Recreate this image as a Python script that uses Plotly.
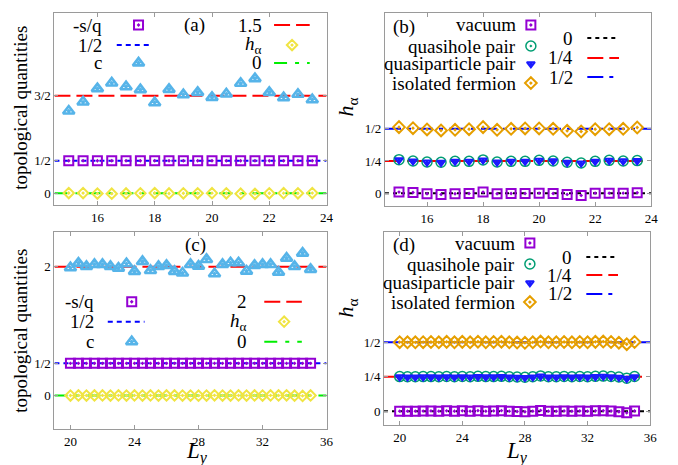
import plotly.graph_objects as go

SERIF = "Liberation Serif"

# ---------------- data ----------------
# panels (a),(b): Ly values
x_ab = [15.0, 15.5, 16.0, 16.5, 17.0, 17.5, 18.0, 18.5, 19.0, 19.5,
        20.0, 20.5, 21.0, 21.5, 22.0, 22.5, 23.0, 23.5]
# panel (a)
sq_a = [0.5, 0.5, 0.5, 0.5, 0.5, 0.5, 0.5, 0.5, 0.5, 0.5, 0.5, 0.5, 0.5, 0.5, 0.5, 0.5, 0.5, 0.5]
c_a = [1.264, 1.403, 1.608, 1.695, 1.638, 1.592, 1.392, 1.597, 1.515, 1.551,
       1.474, 1.526, 1.690, 1.762, 1.551, 1.469, 1.521, 1.438]
h_a = [0.004, 0.003, -0.004, -0.006, -0.003, 0.0, 0.004, -0.003, 0.0, 0.0,
       0.002, 0.0, -0.006, -0.009, 0.0, 0.002, 0.0, 0.003]
ref_a = {"red": 1.5, "blue": 0.5, "green": 0.0}

# panel (b)
vac_b = [0.008, 0.005, -0.005, -0.010, -0.005, -0.003, 0.008, -0.005, -0.003, -0.003,
         0.0, -0.003, -0.010, -0.018, 0.0, 0.0, 0.0, 0.003]
qh_b = [0.260, 0.250, 0.242, 0.240, 0.247, 0.247, 0.258, 0.242, 0.247, 0.247,
        0.255, 0.250, 0.240, 0.234, 0.247, 0.255, 0.250, 0.253]
qp_b = [0.258, 0.248, 0.240, 0.238, 0.246, 0.246, 0.256, 0.240, 0.246, 0.246,
        0.253, 0.249, 0.238, 0.233, 0.246, 0.253, 0.249, 0.251]
fe_b = [0.513, 0.505, 0.495, 0.487, 0.492, 0.497, 0.513, 0.492, 0.500, 0.503,
        0.503, 0.500, 0.484, 0.479, 0.497, 0.497, 0.500, 0.510]
ref_b = {"black": 0.0, "red": 0.25, "blue": 0.5}
red_end_b = 23.8

# panels (c),(d)
x_cd = [20.0, 20.5, 21.0, 21.5, 22.0, 22.5, 23.0, 23.5, 24.0, 24.5, 25.0, 25.5,
        26.0, 26.5, 27.0, 27.5, 28.0, 28.5, 29.0, 29.5, 30.0, 30.5, 31.0, 31.5,
        32.0, 32.5, 33.0, 33.5, 34.0, 34.5, 35.0]
sq_c = [0.5, 0.5, 0.5, 0.5, 0.5, 0.5, 0.5, 0.5, 0.5, 0.5, 0.5, 0.5, 0.5, 0.5, 0.5, 0.5,
        0.5, 0.5, 0.5, 0.5, 0.5, 0.5, 0.5, 0.5, 0.5, 0.5, 0.5, 0.5, 0.5, 0.5, 0.5]
c_c = [1.985, 2.057, 2.005, 2.036, 2.036, 2.005, 1.979, 2.047, 1.928, 2.083, 1.943,
       2.005, 2.021, 1.928, 1.902, 2.036, 2.010, 2.114, 1.891, 2.036, 2.062, 2.062,
       1.933, 2.021, 2.036, 2.036, 1.917, 2.134, 2.005, 2.212, 1.959]
h_c = [0.0, 0.001, 0.0, 0.001, 0.001, 0.0, 0.002, 0.0, 0.002, 0.0, 0.002, 0.0, 0.001,
       0.002, 0.0, -0.001, -0.002, 0.0, 0.003, 0.0, 0.0, 0.001, 0.0, 0.001, 0.0, 0.002,
       0.001, 0.003, -0.002, -0.006, 0.001]
ref_c = {"red": 2.0, "blue": 0.5, "green": 0.0}

# panel (d)
vac_d = [0.0, 0.0, 0.0, 0.001, 0.002, 0.0, 0.003, 0.0, 0.003, 0.0, 0.004, 0.0, 0.002,
         0.004, 0.0, -0.002, -0.004, 0.0, 0.006, 0.0, 0.0, 0.002, 0.0, 0.002, 0.0, 0.003,
         0.004, 0.002, -0.004, -0.012, 0.002]
qh_d = [0.251, 0.250, 0.250, 0.251, 0.251, 0.250, 0.252, 0.250, 0.252, 0.250, 0.253,
        0.251, 0.251, 0.253, 0.250, 0.248, 0.246, 0.250, 0.256, 0.250, 0.250, 0.252,
        0.250, 0.252, 0.250, 0.253, 0.255, 0.252, 0.248, 0.240, 0.252]
qp_d = [0.248, 0.247, 0.247, 0.248, 0.248, 0.247, 0.249, 0.247, 0.249, 0.247, 0.250,
        0.248, 0.248, 0.250, 0.247, 0.245, 0.243, 0.247, 0.253, 0.247, 0.247, 0.249,
        0.247, 0.249, 0.247, 0.250, 0.252, 0.249, 0.245, 0.237, 0.249]
fe_d = [0.501, 0.500, 0.500, 0.501, 0.502, 0.500, 0.503, 0.500, 0.503, 0.500, 0.504,
        0.500, 0.502, 0.504, 0.500, 0.498, 0.496, 0.500, 0.505, 0.500, 0.500, 0.502,
        0.500, 0.502, 0.500, 0.503, 0.505, 0.502, 0.497, 0.486, 0.502]
ref_d = {"black": 0.0, "red": 0.25, "blue": 0.5}
red_end_d = 35.6

# axes settings
xr_ab = [14.5, 24.0]
xr_cd = [19.0, 36.0]
yr_a = [-0.18, 2.77]
yr_b = [-0.10, 1.40]
yr_c = [-0.52, 2.54]
yr_d = [-0.10, 1.30]
xt_ab = [16, 18, 20, 22, 24]
xt_cd = [20, 24, 28, 32, 36]
yt_ac = {"a": ([0, 0.5, 1.5], ["0", "1/2", "3/2"]), "c": ([0, 0.5, 2], ["0", "1/2", "2"])}
yt_bd = ([0, 0.25, 0.5], ["0", "1/4", "1/2"])

# ---------------- styles ----------------
W, H = 678, 465
RED, BLUE, GREEN, BLACK = "#ff0000", "#0000ff", "#00ee00", "#000000"
PURPLE, SKY, YELLOW = "#9400d3", "#56b4e9", "#f0e442"
TEAL, DBLUE, ORANGE = "#009e73", "#1a1aff", "#e69f00"

DASH_RED = "16px,6px"
DASH_BLUE_DOT = "5px,4px"
DASH_GREEN = "13px,8px,4px,8px"
DASH_BLACK = "4px,4px"
DASH_BLUE_LS = "16px,6px,4px,6px"

M_SQ = dict(symbol="square-open-dot", color=PURPLE, size=9, line=dict(width=2, color=PURPLE))
M_TRI = dict(symbol="triangle-up-open-dot", color=SKY, size=10, line=dict(width=2.6, color=SKY))
M_DIA_Y = dict(symbol="diamond-open-dot", color=YELLOW, size=8, line=dict(width=2, color=YELLOW))
M_CIR = dict(symbol="circle-open-dot", color=TEAL, size=10, line=dict(width=1.5, color=TEAL))
M_TRD = dict(symbol="triangle-down-open-dot", color=DBLUE, size=7, line=dict(width=2, color=DBLUE))
M_DIA_O = dict(symbol="diamond-open-dot", color=ORANGE, size=9, line=dict(width=2, color=ORANGE))

fig = go.Figure()


def hline(xa, ya, x0, x1, y, color, dash, width=2):
    fig.add_trace(go.Scatter(x=[x0, x1], y=[y, y], mode="lines", xaxis=xa, yaxis=ya,
                             line=dict(color=color, dash=dash, width=width),
                             showlegend=False, hoverinfo="skip"))


def pts(xa, ya, x, y, marker):
    fig.add_trace(go.Scatter(x=x, y=y, mode="markers", xaxis=xa, yaxis=ya,
                             marker=marker, showlegend=False, cliponaxis=False))


# (a)
hline("x", "y", xr_ab[0], xr_ab[1], ref_a["red"], RED, DASH_RED)
hline("x", "y", xr_ab[0], xr_ab[1], ref_a["blue"], BLUE, DASH_BLUE_DOT)
hline("x", "y", xr_ab[0], xr_ab[1], ref_a["green"], GREEN, DASH_GREEN)
pts("x", "y", x_ab, sq_a, M_SQ)
pts("x", "y", x_ab, c_a, M_TRI)
pts("x", "y", x_ab, h_a, M_DIA_Y)

# (b)
hline("x2", "y2", xr_ab[0], xr_ab[1], ref_b["black"], BLACK, DASH_BLACK)
hline("x2", "y2", xr_ab[0], red_end_b, ref_b["red"], RED, DASH_RED)
hline("x2", "y2", xr_ab[0], xr_ab[1], ref_b["blue"], BLUE, DASH_BLUE_LS)
pts("x2", "y2", x_ab, vac_b, M_SQ)
pts("x2", "y2", x_ab, qh_b, M_CIR)
pts("x2", "y2", x_ab, qp_b, M_TRD)
pts("x2", "y2", x_ab, fe_b, M_DIA_O)

# (c)
hline("x3", "y3", xr_cd[0], xr_cd[1], ref_c["red"], RED, DASH_RED)
hline("x3", "y3", xr_cd[0], xr_cd[1], ref_c["blue"], BLUE, DASH_BLUE_DOT)
hline("x3", "y3", xr_cd[0], xr_cd[1], ref_c["green"], GREEN, DASH_GREEN)
pts("x3", "y3", x_cd, sq_c, M_SQ)
pts("x3", "y3", x_cd, c_c, M_TRI)
pts("x3", "y3", x_cd, h_c, M_DIA_Y)

# (d)
hline("x4", "y4", xr_cd[0], xr_cd[1], ref_d["black"], BLACK, DASH_BLACK)
hline("x4", "y4", xr_cd[0], red_end_d, ref_d["red"], RED, DASH_RED)
hline("x4", "y4", xr_cd[0], xr_cd[1], ref_d["blue"], BLUE, DASH_BLUE_LS)
pts("x4", "y4", x_cd, vac_d, M_SQ)
pts("x4", "y4", x_cd, qh_d, M_CIR)
pts("x4", "y4", x_cd, qp_d, M_TRD)
pts("x4", "y4", x_cd, fe_d, M_DIA_O)

# ---------------- hand-made keys (overlay axes in [0,1]) ----------------
annotations = []


def key_text(xref, yref, x, y, text, anchor="right", size=19):
    annotations.append(dict(xref=xref, yref=yref, x=x, y=y, text=text, showarrow=False,
                            xanchor=anchor, yanchor="middle",
                            font=dict(family=SERIF, size=size, color="black")))


def key_marker(ov, x, y, marker):
    fig.add_trace(go.Scatter(x=[x], y=[y], mode="markers", xaxis="x" + ov, yaxis="y" + ov,
                             marker=marker, showlegend=False, hoverinfo="skip"))


def key_line(ov, x0, x1, y, color, dash):
    fig.add_trace(go.Scatter(x=[x0, x1], y=[y, y], mode="lines", xaxis="x" + ov, yaxis="y" + ov,
                             line=dict(color=color, dash=dash, width=2),
                             showlegend=False, hoverinfo="skip"))


HA = "<i>h</i><sub>α</sub>"

# key (a)
rows = [0.9375, 0.833, 0.740]
key_text("x domain", "y domain", 0.182, rows[0], "-s/q")
key_text("x domain", "y domain", 0.182, rows[1], "1/2")
key_text("x domain", "y domain", 0.182, rows[2], "c")
key_marker("5", 0.309, rows[0], M_SQ)
key_line("5", 0.229, 0.36, rows[1], BLUE, DASH_BLUE_DOT)
key_marker("5", 0.309, rows[2], M_TRI)
key_text("x domain", "y domain", 0.771, rows[0], "1.5")
key_text("x domain", "y domain", 0.771, rows[1], HA)
key_text("x domain", "y domain", 0.771, rows[2], "0")
key_line("5", 0.807, 0.938, rows[0], RED, DASH_RED)
key_marker("5", 0.873, rows[1], M_DIA_Y)
key_line("5", 0.807, 0.938, rows[2], GREEN, DASH_GREEN)
key_text("x domain", "y domain", 0.516, 0.9375, "(a)", anchor="center")

# key (c)
rows = [0.646, 0.545, 0.443]
key_text("x3 domain", "y3 domain", 0.153, rows[0], "-s/q")
key_text("x3 domain", "y3 domain", 0.153, rows[1], "1/2")
key_text("x3 domain", "y3 domain", 0.153, rows[2], "c")
key_marker("7", 0.284, rows[0], M_SQ)
key_line("7", 0.196, 0.331, rows[1], BLUE, DASH_BLUE_DOT)
key_marker("7", 0.284, rows[2], M_TRI)
key_text("x3 domain", "y3 domain", 0.716, rows[0], "2")
key_text("x3 domain", "y3 domain", 0.716, rows[1], HA)
key_text("x3 domain", "y3 domain", 0.716, rows[2], "0")
key_line("7", 0.771, 0.909, rows[0], RED, DASH_RED)
key_marker("7", 0.844, rows[1], M_DIA_Y)
key_line("7", 0.771, 0.909, rows[2], GREEN, DASH_GREEN)
key_text("x3 domain", "y3 domain", 0.52, 0.934, "(c)", anchor="center")


def key_bd(ax, ov, rows1, rows2, lab_xy):
    xd, yd = ax[0] + " domain", ax[1] + " domain"
    names = ["vacuum", "quasihole pair", "quasiparticle pair", "isolated fermion"]
    marks = [M_SQ, M_CIR, M_TRD, M_DIA_O]
    for r, n, m in zip(rows1, names, marks):
        key_text(xd, yd, 0.50, r, n)
        key_marker(ov, 0.548, r, m)
    labs = ["0", "1/4", "1/2"]
    cols = [BLACK, RED, BLUE]
    dashes = [DASH_BLACK, DASH_RED, DASH_BLUE_LS]
    for r, t, c, d in zip(rows2, labs, cols, dashes):
        key_text(xd, yd, 0.712, r, t)
        key_line(ov, 0.76, 0.879, r, c, d)
    key_text(xd, yd, lab_xy[0], lab_xy[1], lab_xy[2], anchor="center")


key_bd(("x2", "y2"), "6", [0.938, 0.829, 0.736, 0.637], [0.870, 0.767, 0.668], (0.071, 0.927, "(b)"))
key_bd(("x4", "y4"), "8", [0.943, 0.834, 0.736, 0.637], [0.870, 0.777, 0.679], (0.074, 0.933, "(d)"))

# axis titles
for (px, py, txt, ang, size, ya, ys) in [
    (20, 108, "topological quantities", -90, 19, "middle", 0),
    (20, 331, "topological quantities", -90, 19, "middle", 0),
    (351, 107, HA, -90, 22, "middle", 0),
    (351, 308, HA, -90, 22, "middle", 0),
    (199, 465, "<i>L</i><sub><i>y</i></sub>", 0, 23, "bottom", -3),
    (522, 465, "<i>L</i><sub><i>y</i></sub>", 0, 23, "bottom", -3),
]:
    annotations.append(dict(xref="paper", yref="paper", x=px / W, y=1 - py / H, text=txt,
                            textangle=ang, showarrow=False, xanchor="center", yanchor=ya,
                            borderpad=0, yshift=ys,
                            font=dict(family=SERIF, size=size, color="black")))


# ---------------- layout ----------------
def dom_x(p0, p1):
    return [p0 / W, p1 / W]


def dom_y(top, bottom):
    return [1 - bottom / H, 1 - top / H]


def axis(domain, rng, tickvals, ticktext, anchor):
    return dict(domain=domain, range=rng, tickvals=tickvals, ticktext=ticktext, anchor=anchor,
                showline=True, mirror="ticks", linecolor="#9a9a9a", linewidth=1,
                ticks="inside", ticklen=4, tickcolor="#9a9a9a", showgrid=False,
                zeroline=False, tickfont=dict(family=SERIF, size=13, color="black"))


def overlay(base, anchor):
    return dict(overlaying=base, anchor=anchor, range=[0, 1], visible=False,
                showgrid=False, zeroline=False, fixedrange=True)


layout = dict(
    width=W, height=H, margin=dict(l=0, r=0, t=0, b=0),
    paper_bgcolor="white", plot_bgcolor="white", showlegend=False,
    font=dict(family=SERIF, color="black"),
    xaxis=axis(dom_x(55, 330), xr_ab, xt_ab, [str(v) for v in xt_ab], "y"),
    yaxis=axis(dom_y(13, 205), yr_a, yt_ac["a"][0], yt_ac["a"][1], "x"),
    xaxis2=axis(dom_x(389, 658), xr_ab, xt_ab, [str(v) for v in xt_ab], "y2"),
    yaxis2=axis(dom_y(13, 206), yr_b, yt_bd[0], yt_bd[1], "x2"),
    xaxis3=axis(dom_x(55, 330), xr_cd, xt_cd, [str(v) for v in xt_cd], "y3"),
    yaxis3=axis(dom_y(232, 429), yr_c, yt_ac["c"][0], yt_ac["c"][1], "x3"),
    xaxis4=axis(dom_x(388, 657), xr_cd, xt_cd, [str(v) for v in xt_cd], "y4"),
    yaxis4=axis(dom_y(232, 425), yr_d, yt_bd[0], yt_bd[1], "x4"),
    xaxis5=overlay("x", "y5"), yaxis5=overlay("y", "x5"),
    xaxis6=overlay("x2", "y6"), yaxis6=overlay("y2", "x6"),
    xaxis7=overlay("x3", "y7"), yaxis7=overlay("y3", "x7"),
    xaxis8=overlay("x4", "y8"), yaxis8=overlay("y4", "x8"),
    annotations=annotations,
)
fig.update_layout(**layout)
fig.write_html("out.html")
